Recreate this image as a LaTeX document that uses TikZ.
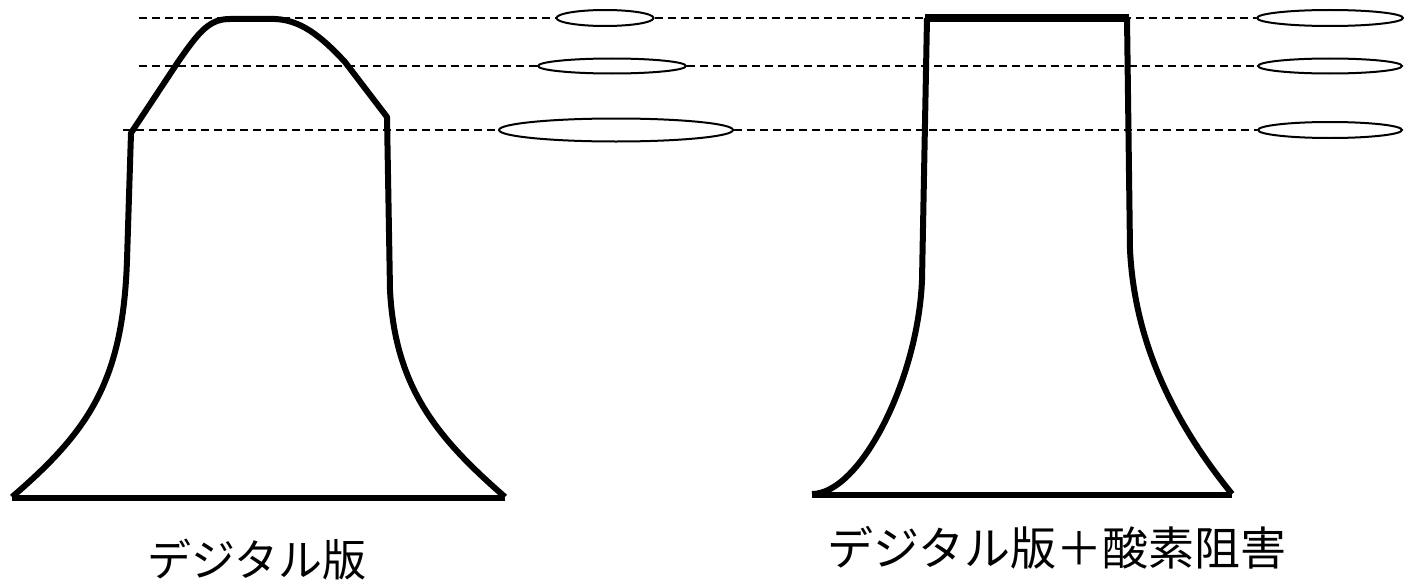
\documentclass[tikz,border=0pt]{standalone}
\usepackage{fontspec}
\newfontfamily\jpfont{Noto Sans CJK JP}
\usetikzlibrary{shapes.geometric}

\begin{document}
\begin{tikzpicture}[x=1pt, y=-1pt,
  bell/.style={line width=6pt, line join=round},
  guide/.style={dash pattern=on 8pt off 5pt, line width=1.4pt},
  ring/.style={ellipse, draw, line width=2pt, fill=white, inner sep=0pt},
  caption/.style={font=\jpfont\fontsize{44}{50}\selectfont}]

  \useasboundingbox (0,0) rectangle (1404,586);

  % Dashed level lines
  \coordinate (g1) at (139,18);
  \coordinate (g2) at (139,66);
  \coordinate (g3) at (123,130);

  % Rings — middle column
  \node[ring, minimum width=97pt,  minimum height=16pt] (a1) at (605,18) {};
  \node[ring, minimum width=148pt, minimum height=15pt] (a2) at (612,66) {};
  \node[ring, minimum width=234pt, minimum height=23pt] (a3) at (616,130) {};

  % Rings — right column
  \node[ring, minimum width=146pt, minimum height=16pt] (b1) at (1330,18) {};
  \node[ring, minimum width=144pt, minimum height=15pt] (b2) at (1330,66) {};
  \node[ring, minimum width=144pt, minimum height=16pt] (b3) at (1330,130) {};

  \draw[guide] (g1) -- (a1.west);  \draw[guide] (a1.east) -- (b1.west);
  \draw[guide] (g2) -- (a2.west);  \draw[guide] (a2.east) -- (b2.west);
  \draw[guide] (g3) -- (a3.west);  \draw[guide] (a3.east) -- (b3.west);

  % Left profile
  \draw[bell] (12,498) -- (505,498);
  \draw[bell] (12,497) .. controls (90,430) and (123,380) .. (127,260) -- (131,133)
    -- (178,62) .. controls (200,30) and (210,19) .. (230,19) -- (275,19)
    .. controls (300,20) and (320,35) .. (345,62) -- (387,117)
    -- (390,290) .. controls (395,390) and (440,440) .. (505,497);

  % Right profile
  \draw[line width=8pt] (925,18) -- (1129,18);
  \draw[bell] (812,495) -- (1232,495);
  \draw[bell] (812,494) .. controls (860,494) and (918,380) .. (922,280) -- (927,18);
  \draw[bell] (1127,18) -- (1130,250) .. controls (1135,350) and (1180,430) .. (1232,494);

  % Captions
  \node[caption] (capA) at (257,560) {デジタル版};
  \node[caption, font=\jpfont\fontsize{46}{52}\selectfont] (capB) at (1057,548) {デジタル版＋酸素阻害};
\end{tikzpicture}
\end{document}
